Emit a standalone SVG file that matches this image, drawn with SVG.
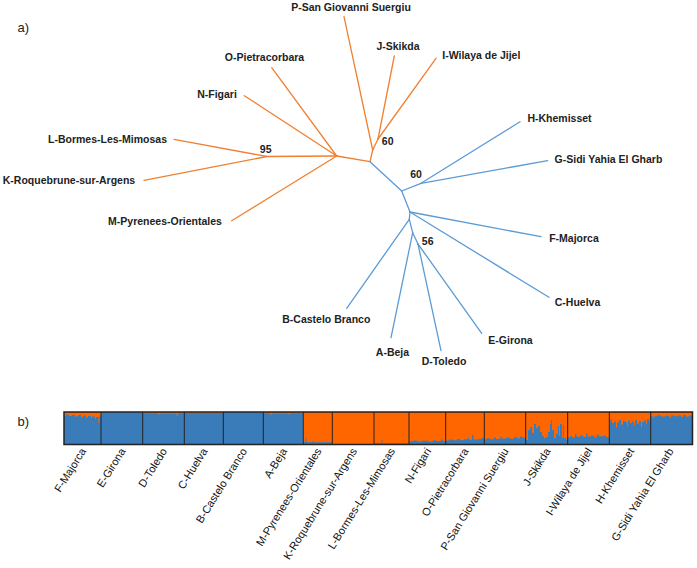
<svg xmlns="http://www.w3.org/2000/svg" width="697" height="568" viewBox="0 0 697 568">
<style>
.lbl{font-family:"Liberation Sans",Arial,sans-serif;font-size:10.5px;font-weight:bold;fill:#222;text-anchor:middle}
.boot{font-family:"Liberation Sans",Arial,sans-serif;font-size:10.5px;font-weight:bold;fill:#222;text-anchor:middle}
.pan{font-family:"Liberation Sans",Arial,sans-serif;font-size:13px;fill:#222}
.or{stroke:#F08030;stroke-width:1.3;fill:none;stroke-linecap:round}
.bl{stroke:#5B9BD5;stroke-width:1.3;fill:none;stroke-linecap:round}
.bo{fill:#FF6600}
.bb{fill:#3A7CBA}
.sep{stroke:#222;stroke-width:1}
.blab{font-family:"Liberation Sans",Arial,sans-serif;font-size:11px;fill:#111;text-anchor:end}
</style>
<rect width="697" height="568" fill="#fff"/>
<text class="pan" x="17.5" y="32">a)</text>
<text class="pan" x="17.5" y="425.5">b)</text>

<g id="connectors">
  <g class="or">
    <line x1="370" y1="161.7" x2="336.7" y2="156"/>
    <line x1="336.7" y1="156" x2="266.7" y2="156.5"/>
    <line x1="266.7" y1="156.5" x2="174" y2="139.3"/>
    <line x1="266.7" y1="156.5" x2="144" y2="180.3"/>
    <line x1="336.7" y1="156" x2="271.7" y2="67.7"/>
    <line x1="336.7" y1="156" x2="244.3" y2="95.7"/>
    <line x1="336.7" y1="156" x2="231.7" y2="220.7"/>
    <line x1="370" y1="161.7" x2="372.7" y2="150"/>
    <line x1="372.7" y1="150" x2="344" y2="16.7"/>
    <line x1="372.7" y1="150" x2="378" y2="139"/>
    <line x1="378" y1="139" x2="394.3" y2="56"/>
    <line x1="378" y1="139" x2="436" y2="58.3"/>
  </g>
  <g class="bl">
    <line x1="370" y1="161.7" x2="401.7" y2="191"/>
    <line x1="401.7" y1="191" x2="421" y2="183.3"/>
    <line x1="421" y1="183.3" x2="520" y2="121.7"/>
    <line x1="421" y1="183.3" x2="547.7" y2="160.7"/>
    <line x1="401.7" y1="191" x2="410" y2="212"/>
    <line x1="410" y1="212" x2="541" y2="236.7"/>
    <line x1="410" y1="212" x2="549" y2="297.3"/>
    <line x1="410" y1="212" x2="409.3" y2="219.3"/>
    <line x1="409.3" y1="219.3" x2="346.7" y2="308.3"/>
    <line x1="409.3" y1="219.3" x2="412.7" y2="232.7"/>
    <line x1="412.7" y1="232.7" x2="391" y2="337.7"/>
    <line x1="412.7" y1="232.7" x2="418" y2="244"/>
    <line x1="418" y1="244" x2="441" y2="350.7"/>
    <line x1="418" y1="244" x2="481.7" y2="333.3"/>
  </g>
</g>

<g id="bootstrap">
  <text class="boot" x="265.7" y="153">95</text>
  <text class="boot" x="387.7" y="144.8">60</text>
  <text class="boot" x="416" y="177.8">60</text>
  <text class="boot" x="427.7" y="244.8">56</text>
</g>

<g id="node-P"><text class="lbl" x="351" y="11">P-San Giovanni Suergiu</text></g>
<g id="node-O"><text class="lbl" x="264.5" y="60.5">O-Pietracorbara</text></g>
<g id="node-N"><text class="lbl" x="217" y="98">N-Figari</text></g>
<g id="node-L"><text class="lbl" x="107.5" y="142.8">L-Bormes-Les-Mimosas</text></g>
<g id="node-K"><text class="lbl" x="69" y="184">K-Roquebrune-sur-Argens</text></g>
<g id="node-M"><text class="lbl" x="165" y="224.8">M-Pyrenees-Orientales</text></g>
<g id="node-J"><text class="lbl" x="398" y="49.8">J-Skikda</text></g>
<g id="node-I"><text class="lbl" x="481.3" y="58.8">I-Wilaya de Jijel</text></g>
<g id="node-H"><text class="lbl" x="559.5" y="121.8">H-Khemisset</text></g>
<g id="node-G"><text class="lbl" x="608.5" y="162.8">G-Sidi Yahia El Gharb</text></g>
<g id="node-F"><text class="lbl" x="574" y="242">F-Majorca</text></g>
<g id="node-C"><text class="lbl" x="577.5" y="305.5">C-Huelva</text></g>
<g id="node-B"><text class="lbl" x="326.3" y="322.8">B-Castelo Branco</text></g>
<g id="node-A"><text class="lbl" x="392.5" y="355.5">A-Beja</text></g>
<g id="node-D"><text class="lbl" x="444" y="364.8">D-Toledo</text></g>
<g id="node-E"><text class="lbl" x="510.5" y="343.8">E-Girona</text></g>

<g id="barplot">
  <rect class="bb" x="64" y="412" width="239.3" height="32.5"/>
  <rect class="bo" x="303.3" y="412" width="306" height="32.5"/>
  <rect class="bb" x="609.3" y="412" width="83.2" height="32.5"/>
  <!-- F-Majorca orange top -->
  <path class="bo" d="M64,412 H101 V416 H99.5 V423 H98.5 V417 H96 V419 H95 V416.5 H92 V418.5 H91 V416 H88 V417.5 H86 V415.5 H83 V417 H81 V415 H78 V416.5 H75 V415 H72 V416 H69 V414.5 H66 V415.5 H64 Z"/>
  <path class="bo" d="M142.7,412 H184.3 V413.3 H177.5 V416 H176.5 V413.5 H160 V414.3 H158 V413.3 H142.7 Z"/>
  <path class="bo" d="M184.3,412 H223.3 V413 H184.3 Z"/>
  <path class="bo" d="M263.3,412 H303.3 V413.3 H290 V414.3 H288 V413.5 H272 V414.5 H270 V413.3 H263.3 Z"/>
  <!-- orange segments blue bottoms -->
  <path class="bb" d="M303.3,444.5 V442 H305.5 V438.3 H306.5 V442.3 H312 V441.5 H314 V442.3 H332.3 V444.5 Z"/>
  <path class="bb" d="M374,444.5 V443 H381.5 V440.3 H382.5 V443 H409 V444.5 Z"/>
  <path class="bb" d="M409,444.5 V441.3 H413 V440.5 H417 V441.5 H422 V440.8 H428 V441.5 H433 V440.2 H436 V441 H441 V439.5 H443 V441.3 H445.7 V444.5 Z"/>
  <path class="bb" d="M445.7,444.5 V440.5 H449 V439.5 H453 V440.3 H457 V439 H460 V440 H464 V439.3 H468 V437.5 H469 V439.8 H472 V435 H473.5 V439.5 H478 V439 H481 V438 H484.3 V444.5 Z"/>
  <path class="bb" d="M484.3,444.5 V439 H487 V438.3 H490 V439.3 H494 V437.5 H496 V439 H500 V436.8 H501.5 V438.5 H506 V437.8 H510 V438.8 H514 V437.3 H517 V438.3 H520 V436.5 H522 V437.5 H525.7 V444.5 Z"/>
  <path class="bb" d="M525.7,444.5 V440 H528 V430 H530 V427 H532 V433 H534 V424 H536 V428 H538 V426 H540 V432 H542 V436 H544 V438 H546 V437 H548 V432 H550 V424 H551 V420 H552 V430 H554 V438 H556 V434 H558 V426 H559 V436 H560 V424 H562 V438 H563 V425 H564 V438 H566 V440 H567.7 V444.5 Z"/>
  <path class="bb" d="M567.7,444.5 V437.5 H570 V436 H572 V437.3 H575 V434 H576.5 V436.8 H580 V435.5 H583 V437 H586 V433.3 H587.5 V436.5 H591 V435.8 H594 V437.2 H597 V434.5 H599 V436.3 H603 V435.7 H606 V437 H609.3 V444.5 Z"/>
  <!-- blue segments orange tops -->
  <path class="bo" d="M609.3,412 H650.7 V421 H649 V419 H647 V424 H646 V420.5 H644 V422 H642 V427 H641 V421 H639 V423.5 H637 V420 H635 V425 H634 V421.5 H632 V423 H630 V420.5 H628 V426 H627 V422 H625 V421 H623 V424.5 H621 V420 H619 V422.5 H617 V427.5 H616 V421.5 H614 V423 H612 V419.5 H610.5 V421 H609.3 Z"/>
  <path class="bo" d="M650.7,412 H692.5 V415.5 H689 V416.5 H686 V415 H683 V417 H681 V415.5 H677 V416.3 H674 V415.2 H671 V417.5 H669.5 V415.8 H665 V416.5 H661 V415.3 H657 V416.2 H654 V417.8 H652.5 V416 H650.7 Z"/>
  <g class="sep">
    <line x1="101" y1="412" x2="101" y2="444.5"/>
    <line x1="142.7" y1="412" x2="142.7" y2="444.5"/>
    <line x1="184.3" y1="412" x2="184.3" y2="444.5"/>
    <line x1="223.3" y1="412" x2="223.3" y2="444.5"/>
    <line x1="263.3" y1="412" x2="263.3" y2="444.5"/>
    <line x1="303.3" y1="412" x2="303.3" y2="444.5"/>
    <line x1="332.3" y1="412" x2="332.3" y2="444.5"/>
    <line x1="374" y1="412" x2="374" y2="444.5"/>
    <line x1="409" y1="412" x2="409" y2="444.5"/>
    <line x1="445.7" y1="412" x2="445.7" y2="444.5"/>
    <line x1="484.3" y1="412" x2="484.3" y2="444.5"/>
    <line x1="525.7" y1="412" x2="525.7" y2="444.5"/>
    <line x1="567.7" y1="412" x2="567.7" y2="444.5"/>
    <line x1="609.3" y1="412" x2="609.3" y2="444.5"/>
    <line x1="650.7" y1="412" x2="650.7" y2="444.5"/>
  </g>
  <rect x="64" y="412" width="628.5" height="32.5" fill="none" stroke="#222" stroke-width="1.5"/>
</g>

<g id="bar-labels">
  <text class="blab" transform="translate(86.5,451) rotate(-58)">F-Majorca</text>
  <text class="blab" transform="translate(126,451) rotate(-58)">E-Girona</text>
  <text class="blab" transform="translate(167.5,451) rotate(-58)">D-Toledo</text>
  <text class="blab" transform="translate(208,451) rotate(-58)">C-Huelva</text>
  <text class="blab" transform="translate(247.5,451) rotate(-58)">B-Castelo Branco</text>
  <text class="blab" transform="translate(287.5,451) rotate(-58)">A-Beja</text>
  <text class="blab" transform="translate(322,451) rotate(-58)">M-Pyrenees-Orientales</text>
  <text class="blab" transform="translate(357.5,451) rotate(-58)">K-Roquebrune-sur-Argens</text>
  <text class="blab" transform="translate(395.5,451) rotate(-58)">L-Bormes-Les-Mimosas</text>
  <text class="blab" transform="translate(431.5,451) rotate(-58)">N-Figari</text>
  <text class="blab" transform="translate(469,451) rotate(-58)">O-Pietracorbara</text>
  <text class="blab" transform="translate(509,451) rotate(-58)">P-San Giovanni Suergiu</text>
  <text class="blab" transform="translate(551,451) rotate(-58)">J-Skikda</text>
  <text class="blab" transform="translate(592.5,451) rotate(-58)">I-Wilaya de Jijel</text>
  <text class="blab" transform="translate(634.5,451) rotate(-58)">H-Khemisset</text>
  <text class="blab" transform="translate(674,451) rotate(-58)">G-Sidi Yahia El Gharb</text>
</g>
</svg>
